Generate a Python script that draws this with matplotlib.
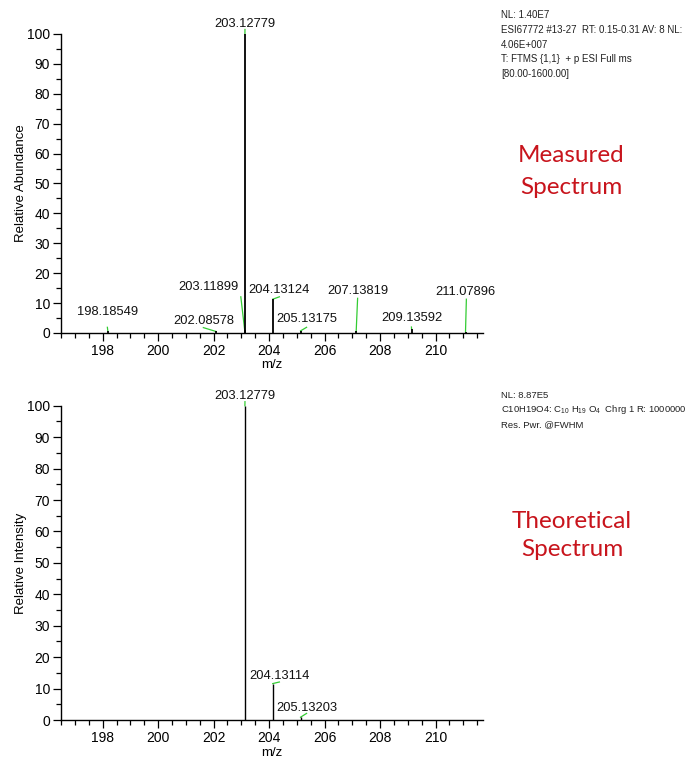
import matplotlib
matplotlib.use("Agg")
import matplotlib.pyplot as plt
from matplotlib.ticker import MultipleLocator

plt.rcParams['font.family'] = ['Liberation Sans', 'DejaVu Sans']
plt.rcParams['mathtext.fontset'] = 'custom'
plt.rcParams['mathtext.rm'] = 'Liberation Sans'

# Measured spectrum peaks (m/z, relative abundance)
meas_mz = [198.18549, 202.08578, 203.11899, 203.12779, 204.13124,
           205.13175, 207.13819, 209.13592, 211.07896]
meas_int = [0.8, 0.5, 1.0, 100, 11.3, 0.7, 0.5, 1.2, 0.4]
meas_labels = ["198.18549", "202.08578", "203.11899", "203.12779", "204.13124",
               "205.13175", "207.13819", "209.13592", "211.07896"]

# Theoretical spectrum peaks
theo_mz = [203.12779, 204.13114, 205.13203]
theo_int = [100, 11.6, 0.9]
theo_labels = ["203.12779", "204.13114", "205.13203"]

# label placement: text centre and end of the green leader line
meas_text_pos = [(198.16, 7.1), (201.63, 4.1), (201.81, 15.5), (203.12, 103.3),
                 (204.36, 14.4), (205.35, 4.6), (207.19, 14.1), (209.13, 4.9),
                 (211.08, 13.8)]
meas_lead_end = [(198.17, 1.9), (201.63, 1.8), (202.98, 12.1), (203.13, 101.5),
                 (204.37, 12.1), (205.35, 1.9), (207.19, 11.6), (209.13, 2.0),
                 (211.11, 11.3)]
theo_text_pos = [(203.13, 103.2), (204.37, 14.0), (205.36, 3.9)]
theo_lead_end = [(203.13, 101.3), (204.37, 12.1), (205.35, 2.1)]

meas_header = ["NL: 1.40E7",
               "ESI67772 #13-27  RT: 0.15-0.31 AV: 8 NL:",
               "4.06E+007",
               "T: FTMS {1,1}  + p ESI Full ms",
               "[80.00-1600.00]"]
theo_header = ["NL: 8.87E5",
               r"C10H19O4: C$_{\mathrm{10}}$ H$_{\mathrm{19}}$ O$_{\mathrm{4}}$  Chrg 1 R: 1000000",
               "Res. Pwr. @FWHM"]

xlim = (196.5, 211.7)
green = '#33cc33'
red = '#c8141c'

fig = plt.figure(figsize=(6.92, 7.58), dpi=100)
ax1 = fig.add_axes([0.0882, 0.5607, 0.6094, 0.3945])
ax2 = fig.add_axes([0.0882, 0.0501, 0.6094, 0.4146])


def style_axis(ax, ylabel):
    ax.set_xlim(*xlim)
    ax.set_ylim(0, 100)
    for s in ['top', 'right']:
        ax.spines[s].set_visible(False)
    for s in ['left', 'bottom']:
        ax.spines[s].set_linewidth(1.0)
    ax.xaxis.set_major_locator(MultipleLocator(2))
    ax.xaxis.set_minor_locator(MultipleLocator(0.5))
    ax.yaxis.set_major_locator(MultipleLocator(10))
    ax.yaxis.set_minor_locator(MultipleLocator(5))
    ax.tick_params(which='major', length=6, width=0.9, labelsize=10, pad=2)
    ax.tick_params(which='minor', length=3.5, width=0.9)
    ax.set_xlabel("m/z", fontsize=9.5, labelpad=1)
    ax.set_ylabel(ylabel, fontsize=9.5, labelpad=0)


def draw_peaks(ax, mz, inten, labels, text_pos, lead_end, lw):
    ax.vlines(mz, 0, inten, colors='black', lw=lw, clip_on=False, zorder=3)
    for m, h, lab, (tx, ty), (lx, ly) in zip(mz, inten, labels, text_pos, lead_end):
        ax.plot([m, lx], [h, ly], color=green, lw=0.9, clip_on=False, zorder=2)
        ax.text(tx, ty, lab, ha='center', va='center', fontsize=9.3,
                color='#111111', clip_on=False)


style_axis(ax1, "Relative Abundance")
style_axis(ax2, "Relative Intensity")
draw_peaks(ax1, meas_mz, meas_int, meas_labels, meas_text_pos, meas_lead_end, 1.3)
draw_peaks(ax2, theo_mz, theo_int, theo_labels, theo_text_pos, theo_lead_end, 1.0)

# header info text
for i, line in enumerate(meas_header):
    fig.text(501 / 692, 1 - (15 + i * 14.8) / 758, line, fontsize=7,
             ha='left', va='center', color='#222222')
for i, line in enumerate(theo_header):
    fig.text(501 / 692, 1 - (395 + i * 15) / 758, line, fontsize=6.8,
             ha='left', va='center', color='#222222')

fig.text(571 / 692, 1 - 155 / 758, "Measured", fontsize=17.5, color=red,
         ha='center', va='center', family='Lato')
fig.text(571 / 692, 1 - 187 / 758, "Spectrum", fontsize=17.5, color=red,
         ha='center', va='center', family='Lato')
fig.text(572 / 692, 1 - 522 / 758, "Theoretical", fontsize=17.5, color=red,
         ha='center', va='center', family='Lato')
fig.text(572 / 692, 1 - 550 / 758, "Spectrum", fontsize=17.5, color=red,
         ha='center', va='center', family='Lato')

fig.savefig("out.png", dpi=100)
